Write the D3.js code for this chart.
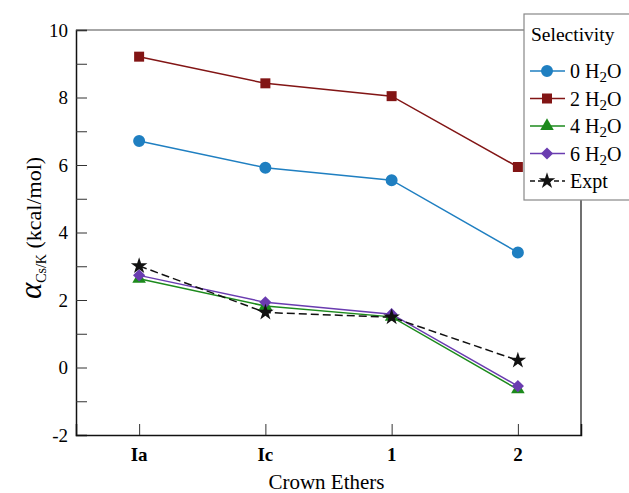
<!DOCTYPE html>
<html>
<head>
<meta charset="utf-8">
<script src="https://cdn.jsdelivr.net/npm/d3@7"></script>
<style>
  body { margin: 0; background: #fff; }
  text { font-family: "Liberation Serif", "DejaVu Serif", serif; }
</style>
</head>
<body>
<div id="vis"></div>
<script>
// data
var ethers = ["Ia", "Ic", "1", "2"];
var water0 = [6.71, 5.92, 5.55, 3.41];
var water2 = [9.21, 8.42, 8.04, 5.94];
var water4 = [2.63, 1.82, 1.50, -0.65];
var water6 = [2.73, 1.93, 1.58, -0.55];
var expt   = [3.01, 1.63, 1.49, 0.21];
var yTicks = [-2, 0, 2, 4, 6, 8, 10];

var series = [
  {n: "0", values: water0, color: "#1f7fc1", symbol: d3.symbolCircle, size: 113, dash: null},
  {n: "2", values: water2, color: "#821515", symbol: d3.symbolSquare, size: 100, dash: null},
  {n: "4", values: water4, color: "#1c8a1c", symbol: d3.symbolTriangle, size: 80, dash: null},
  {n: "6", values: water6, color: "#6a3cb0", symbol: d3.symbolDiamond2, size: 95, dash: null},
  {n: "Expt", values: expt, color: "#111111", symbol: d3.symbolStar, size: 85, dash: "8,4"}
];

var W = 629, H = 493;
var margin = {top: 30, right: 48, bottom: 58, left: 76},
    width = W - margin.left - margin.right,
    height = H - margin.top - margin.bottom;

var svg = d3.select("#vis")
    .append("svg")
    .attr("width", W)
    .attr("height", H);

var g = svg.append("g")
    .attr("transform", "translate(" + margin.left + "," + margin.top + ")");

var x = d3.scalePoint().domain(ethers).range([0, width]).padding(0.5);
var y = d3.scaleLinear().domain([-2, 10]).range([height, 0]);

// frame
g.append("line").attr("x1", 0).attr("x2", width).attr("y1", 0).attr("y2", 0)
    .attr("stroke", "#888").attr("stroke-width", 1.5);
g.append("line").attr("x1", width).attr("x2", width).attr("y1", 0).attr("y2", height)
    .attr("stroke", "#111").attr("stroke-width", 1.2);

// y axis, ticks pointing inward
var yAxis = g.append("g")
    .call(d3.axisRight(y).tickValues(d3.range(-2, 11, 1)).tickSize(11).tickFormat(""));
yAxis.select(".domain").attr("stroke", "#111").attr("stroke-width", 1.5);
yAxis.selectAll(".tick line").attr("stroke", "#333");
g.selectAll(".ylab")
    .data(yTicks)
    .enter().append("text")
    .attr("class", "ylab")
    .attr("x", -8)
    .attr("y", function (d) { return y(d); })
    .attr("dy", "0.35em")
    .attr("text-anchor", "end")
    .attr("font-size", 19)
    .text(function (d) { return d; });

// x axis, ticks pointing inward
var xAxis = g.append("g")
    .attr("transform", "translate(0," + height + ")")
    .call(d3.axisTop(x).tickSize(11).tickFormat(""));
xAxis.select(".domain").attr("stroke", "#111").attr("stroke-width", 1.5);
xAxis.selectAll(".tick line").attr("stroke", "#333");
g.selectAll(".xlab")
    .data(ethers)
    .enter().append("text")
    .attr("class", "xlab")
    .attr("x", function (d) { return x(d); })
    .attr("y", height + 26)
    .attr("text-anchor", "middle")
    .attr("font-size", 19)
    .attr("font-weight", "bold")
    .text(function (d) { return d; });

g.append("text")
    .attr("x", width / 2 - 2)
    .attr("y", height + 54)
    .attr("text-anchor", "middle")
    .attr("font-size", 21)
    .text("Crown Ethers");

var ylabel = svg.append("text")
    .attr("transform", "translate(41,228) rotate(-90)")
    .attr("text-anchor", "middle")
    .attr("font-size", 22);
ylabel.append("tspan").attr("font-style", "italic").attr("font-size", 31).text("α");
ylabel.append("tspan").attr("font-size", 14).attr("dy", 5).text("Cs/K");
ylabel.append("tspan").attr("dy", -5).text(" (kcal/mol)");

// lines and markers
var line = d3.line()
    .x(function (d, i) { return x(ethers[i]); })
    .y(function (d) { return y(d); });

series.forEach(function (s) {
    g.append("path")
        .datum(s.values)
        .attr("d", line)
        .attr("fill", "none")
        .attr("stroke", s.color)
        .attr("stroke-width", 1.5)
        .attr("stroke-dasharray", s.dash);
});
series.forEach(function (s) {
    g.selectAll(null)
        .data(s.values)
        .enter().append("path")
        .attr("d", d3.symbol().type(s.symbol).size(s.size))
        .attr("transform", function (d, i) {
            return "translate(" + x(ethers[i]) + "," + y(d) + ")";
        })
        .attr("fill", s.color);
});

// legend
var legend = svg.append("g").attr("transform", "translate(524,14)");
legend.append("rect")
    .attr("width", 120).attr("height", 186)
    .attr("fill", "#fff").attr("stroke", "#888").attr("stroke-width", 1.2);
legend.append("text")
    .attr("x", 7).attr("y", 27)
    .attr("font-size", 19.5)
    .text("Selectivity");

var item = legend.selectAll(".item")
    .data(series)
    .enter().append("g")
    .attr("class", "item")
    .attr("transform", function (d, i) { return "translate(0," + (57 + i * 27.5) + ")"; });
item.append("line")
    .attr("x1", 6).attr("x2", 41)
    .attr("stroke", function (d) { return d.color; })
    .attr("stroke-width", 1.5)
    .attr("stroke-dasharray", function (d) { return d.dash ? "5,3" : null; });
item.append("path")
    .attr("d", function (d) { return d3.symbol().type(d.symbol).size(d.size)(); })
    .attr("transform", "translate(23,0)")
    .attr("fill", function (d) { return d.color; });
var lt = item.append("text")
    .attr("x", 46).attr("y", 7)
    .attr("font-size", 20);
lt.each(function (d) {
    var t = d3.select(this);
    if (d.n === "Expt") { t.text("Expt"); return; }
    t.append("tspan").text(d.n + " H");
    t.append("tspan").attr("font-size", 15).attr("dy", 4).text("2");
    t.append("tspan").attr("dy", -4).text("O");
});
</script>
</body>
</html>
